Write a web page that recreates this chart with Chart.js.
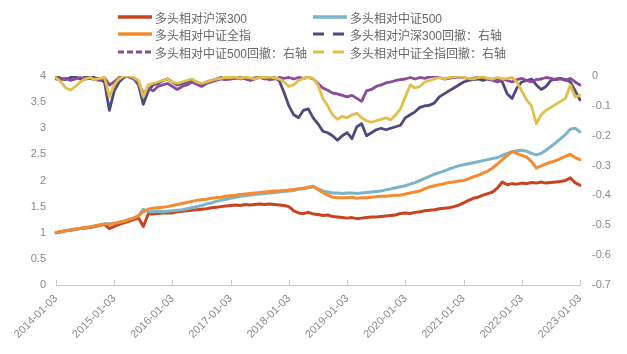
<!DOCTYPE html>
<html><head><meta charset="utf-8">
<script src="https://cdn.jsdelivr.net/npm/chart.js@4.4.0/dist/chart.umd.min.js"></script>
<style>
html,body{margin:0;padding:0;background:#fff;}
#wrap{position:relative;width:627px;height:354px;overflow:hidden;}
#legend{position:absolute;left:0;top:0;width:627px;height:70px;font-family:"Liberation Sans","Noto Sans CJK SC",sans-serif;font-size:12px;color:#666;}
.item{position:absolute;height:16px;display:flex;align-items:center;white-space:nowrap;}
.item svg{margin-right:3px;}
</style></head><body>
<div id="wrap"><canvas id="c" width="627" height="354" style="width:627px;height:354px"></canvas><div id="legend"></div></div>
<script>
const categories = [
'2014-01','2014-02','2014-03','2014-04','2014-05','2014-06','2014-07','2014-08','2014-09','2014-10','2014-11','2014-12',
'2015-01','2015-02','2015-03','2015-04','2015-05','2015-06','2015-07','2015-08','2015-09','2015-10','2015-11','2015-12',
'2016-01','2016-02','2016-03','2016-04','2016-05','2016-06','2016-07','2016-08','2016-09','2016-10','2016-11','2016-12',
'2017-01','2017-02','2017-03','2017-04','2017-05','2017-06','2017-07','2017-08','2017-09','2017-10','2017-11','2017-12',
'2018-01','2018-02','2018-03','2018-04','2018-05','2018-06','2018-07','2018-08','2018-09','2018-10','2018-11','2018-12',
'2019-01','2019-02','2019-03','2019-04','2019-05','2019-06','2019-07','2019-08','2019-09','2019-10','2019-11','2019-12',
'2020-01','2020-02','2020-03','2020-04','2020-05','2020-06','2020-07','2020-08','2020-09','2020-10','2020-11','2020-12',
'2021-01','2021-02','2021-03','2021-04','2021-05','2021-06','2021-07','2021-08','2021-09','2021-10','2021-11','2021-12',
'2022-01','2022-02','2022-03','2022-04','2022-05','2022-06','2022-07','2022-08','2022-09','2022-10','2022-11','2022-12',
'2023-01'];

const tickLabels = ['2014-01-03','2015-01-03','2016-01-03','2017-01-03','2018-01-03','2019-01-03','2020-01-03','2021-01-03','2022-01-03','2023-01-03'];

const seriesNames = ['多头相对沪深300','多头相对中证500','多头相对中证全指','多头相对沪深300回撤：右轴','多头相对中证500回撤：右轴','多头相对中证全指回撤：右轴'];

const hs300 = [
1.00,1.02,1.04,1.05,1.06,1.08,1.09,1.10,1.12,1.14,1.16,1.08,
1.12,1.16,1.19,1.22,1.25,1.28,1.12,1.36,1.36,1.37,1.38,1.38,
1.38,1.40,1.41,1.42,1.43,1.44,1.45,1.46,1.48,1.49,1.50,1.51,
1.52,1.53,1.52,1.54,1.53,1.54,1.55,1.54,1.55,1.54,1.53,1.52,
1.50,1.42,1.38,1.37,1.39,1.36,1.35,1.33,1.34,1.31,1.30,1.29,
1.28,1.29,1.27,1.28,1.29,1.30,1.30,1.31,1.32,1.33,1.34,1.37,
1.38,1.37,1.39,1.40,1.42,1.43,1.44,1.46,1.47,1.48,1.50,1.53,
1.57,1.62,1.66,1.68,1.72,1.75,1.78,1.86,1.97,1.92,1.94,1.93,
1.95,1.94,1.96,1.95,1.97,1.95,1.96,1.97,1.98,2.00,2.05,1.96,
1.91];

const zz500 = [
1.00,1.02,1.04,1.06,1.07,1.08,1.10,1.11,1.13,1.15,1.17,1.17,
1.18,1.20,1.22,1.25,1.28,1.32,1.45,1.40,1.40,1.41,1.40,1.41,
1.42,1.43,1.44,1.46,1.48,1.50,1.52,1.55,1.57,1.60,1.62,1.64,
1.66,1.68,1.70,1.71,1.72,1.73,1.74,1.75,1.76,1.77,1.78,1.79,
1.80,1.81,1.83,1.84,1.86,1.88,1.84,1.80,1.78,1.76,1.76,1.75,
1.76,1.76,1.75,1.76,1.77,1.78,1.79,1.80,1.82,1.84,1.86,1.88,
1.90,1.93,1.96,2.00,2.04,2.08,2.12,2.15,2.18,2.22,2.25,2.28,
2.30,2.32,2.34,2.36,2.38,2.40,2.42,2.44,2.48,2.52,2.55,2.57,
2.58,2.56,2.52,2.49,2.52,2.58,2.65,2.72,2.80,2.88,2.98,3.00,
2.93];

const zzqz = [
1.00,1.02,1.04,1.05,1.07,1.08,1.10,1.11,1.13,1.15,1.17,1.16,
1.18,1.20,1.22,1.25,1.28,1.33,1.40,1.45,1.47,1.48,1.49,1.50,
1.52,1.54,1.56,1.58,1.60,1.62,1.63,1.64,1.66,1.67,1.68,1.70,
1.71,1.72,1.73,1.74,1.75,1.76,1.77,1.78,1.79,1.80,1.80,1.81,
1.82,1.83,1.84,1.85,1.87,1.89,1.83,1.77,1.72,1.68,1.67,1.67,
1.67,1.68,1.66,1.67,1.67,1.68,1.69,1.70,1.70,1.71,1.72,1.72,
1.74,1.76,1.78,1.80,1.84,1.88,1.90,1.92,1.94,1.96,1.97,1.99,
2.00,2.03,2.07,2.10,2.14,2.18,2.24,2.32,2.40,2.48,2.55,2.52,
2.48,2.45,2.36,2.24,2.28,2.32,2.35,2.38,2.42,2.46,2.50,2.44,
2.40];

const hs300Dd = [
0,-0.008,-0.012,-0.005,-0.003,-0.01,-0.004,0,-0.006,-0.01,-0.02,-0.115,
-0.05,-0.02,-0.005,0,-0.008,-0.03,-0.095,-0.05,-0.03,-0.025,-0.015,-0.01,
-0.02,-0.03,-0.025,-0.02,-0.015,-0.02,-0.03,-0.02,-0.015,-0.01,-0.005,-0.01,
-0.008,-0.005,-0.01,-0.005,-0.01,-0.006,-0.004,-0.01,-0.005,-0.005,-0.015,-0.055,
-0.1,-0.13,-0.14,-0.115,-0.11,-0.14,-0.16,-0.185,-0.19,-0.2,-0.215,-0.2,
-0.19,-0.21,-0.17,-0.16,-0.2,-0.19,-0.18,-0.175,-0.18,-0.175,-0.17,-0.165,
-0.14,-0.13,-0.12,-0.105,-0.1,-0.098,-0.09,-0.07,-0.06,-0.05,-0.04,-0.03,
-0.02,-0.015,-0.012,-0.01,-0.015,-0.01,-0.012,-0.01,-0.02,-0.06,-0.075,-0.04,
-0.02,-0.015,-0.01,-0.03,-0.045,-0.035,-0.015,-0.01,-0.008,-0.012,-0.02,-0.05,
-0.08];

const zz500Dd = [
-0.01,-0.012,-0.008,-0.015,-0.01,-0.005,-0.01,-0.008,-0.012,-0.015,-0.005,-0.03,
-0.02,-0.005,0,-0.003,-0.01,-0.02,-0.06,-0.04,-0.05,-0.035,-0.03,-0.025,
-0.035,-0.045,-0.035,-0.03,-0.02,-0.028,-0.035,-0.025,-0.02,-0.015,-0.01,-0.012,
-0.01,-0.008,-0.005,-0.01,-0.015,-0.01,-0.005,-0.008,-0.012,-0.01,-0.005,-0.008,
-0.005,-0.01,-0.005,-0.008,-0.004,-0.01,-0.025,-0.04,-0.048,-0.057,-0.06,-0.065,
-0.07,-0.065,-0.075,-0.085,-0.05,-0.045,-0.035,-0.03,-0.023,-0.02,-0.015,-0.012,
-0.01,-0.005,-0.01,-0.005,-0.008,-0.003,0,-0.005,-0.01,-0.008,-0.005,-0.003,
-0.005,-0.01,-0.008,-0.004,-0.006,-0.01,-0.015,-0.02,-0.01,-0.015,-0.02,-0.012,
-0.008,-0.015,-0.02,-0.012,-0.01,-0.005,-0.008,-0.012,-0.01,-0.015,-0.008,-0.02,
-0.03];

const zzqzDd = [
-0.005,-0.02,-0.04,-0.047,-0.035,-0.02,-0.01,-0.005,-0.012,-0.008,-0.005,-0.07,
-0.03,-0.01,0,0,-0.005,-0.015,-0.07,-0.03,-0.025,-0.02,-0.015,-0.01,
-0.02,-0.025,-0.02,-0.015,-0.01,-0.02,-0.025,-0.02,-0.015,-0.01,-0.008,-0.005,
-0.005,-0.003,-0.008,-0.004,-0.006,-0.01,-0.004,-0.005,-0.003,-0.006,-0.01,-0.02,
-0.035,-0.03,-0.015,-0.008,-0.005,-0.008,-0.03,-0.075,-0.1,-0.13,-0.145,-0.135,
-0.14,-0.13,-0.125,-0.14,-0.15,-0.155,-0.15,-0.145,-0.14,-0.147,-0.13,-0.11,
-0.07,-0.03,-0.04,-0.035,-0.02,-0.015,-0.01,-0.005,-0.01,-0.005,-0.003,0,
-0.005,-0.008,-0.01,-0.005,-0.003,-0.008,-0.01,-0.005,-0.01,-0.008,-0.005,-0.02,
-0.05,-0.08,-0.1,-0.16,-0.13,-0.115,-0.105,-0.095,-0.085,-0.075,-0.03,-0.07,
-0.065];

const colors = ['#C8431F','#7DB3C9','#F58A30','#4E4A7E','#8B4A9A','#E2BF4B'];
const FONT = "'Liberation Sans','Noto Sans CJK SC',sans-serif";

const tickMap = {};
tickLabels.forEach(t => { const i = categories.indexOf(t.slice(0,7)); if (i >= 0) tickMap[i] = t; });

const seriesData = [hs300, zz500, zzqz, hs300Dd, zz500Dd, zzqzDd];
const axisOf = ['y','y','y','y2','y2','y2'];
const drawOrder = [3,2,1,6,5,4];
const widths = [3,3,3,2.8,2.8,2.8];

const datasets = seriesData.map((d,i)=>({
  label: seriesNames[i], data: d, yAxisID: axisOf[i],
  borderColor: colors[i], backgroundColor: colors[i],
  borderWidth: widths[i], pointRadius: 0, tension: 0, fill: false, order: drawOrder[i]
}));

const tickMarks = {
  id:'tickMarks',
  afterDraw(chart){
    const c = chart.ctx, xs = chart.scales.x, b = chart.chartArea.bottom;
    c.save(); c.strokeStyle = '#c8c8c8'; c.lineWidth = 1;
    Object.keys(tickMap).forEach(k=>{
      const x = Math.round(xs.getPixelForValue(+k)) + 0.5;
      c.beginPath(); c.moveTo(x, b); c.lineTo(x, b-5); c.stroke();
    });
    c.restore();
  }
};

const fmt = v => String(Math.round(v*10)/10);

new Chart(document.getElementById('c'), {
  type:'line',
  data:{labels: categories, datasets},
  options:{
    responsive:false, animation:false,
    layout:{padding:{top:76,left:0,right:0,bottom:0}},
    plugins:{legend:{display:false}, tooltip:{enabled:false}},
    elements:{line:{borderJoinStyle:'round', borderCapStyle:'round'}},
    scales:{
      x:{
        type:'category', offset:false,
        grid:{display:false, drawTicks:false},
        border:{display:true, color:'#c8c8c8', width:1},
        ticks:{autoSkip:false, maxRotation:45, minRotation:45, color:'#8a8a8a',
          font:{size:11, family:FONT}, padding:7,
          callback:(v,i)=> (tickMap[i] !== undefined ? tickMap[i] : null)},
        afterFit:s=>{ s.height = 69; }
      },
      y:{
        position:'left', min:0, max:4,
        ticks:{stepSize:0.5, color:'#8a8a8a', font:{size:11, family:FONT}, padding:2, callback:fmt},
        grid:{display:false}, border:{display:false},
        afterFit:s=>{ s.width = 56; }
      },
      y2:{
        position:'right', min:-0.7, max:0,
        ticks:{stepSize:0.1, color:'#8a8a8a', font:{size:11, family:FONT}, padding:4, callback:fmt},
        grid:{display:false}, border:{display:false},
        afterFit:s=>{ s.width = 47; }
      }
    }
  },
  plugins:[tickMarks]
});

const legendPos = [[118,17],[313,17],[118,34],[313,34],[118,52],[313,52]];
const dash = [null,null,null,'11 9','6 3','11 9'];
const leg = document.getElementById('legend');
seriesNames.forEach((n,i)=>{
  const d = document.createElement('div');
  d.className = 'item';
  d.style.left = legendPos[i][0] + 'px';
  d.style.top = (legendPos[i][1]-8) + 'px';
  const sw = dash[i] ? 3 : 3.5;
  d.innerHTML = '<svg width="34" height="8"><line x1="0" y1="4" x2="34" y2="4" stroke="'+colors[i]+'" stroke-width="'+sw+'"'+(dash[i]?' stroke-dasharray="'+dash[i]+'"':' stroke-linecap="round"')+'/></svg><span></span>';
  d.querySelector('span').textContent = n;
  leg.appendChild(d);
});
</script>
</body></html>
